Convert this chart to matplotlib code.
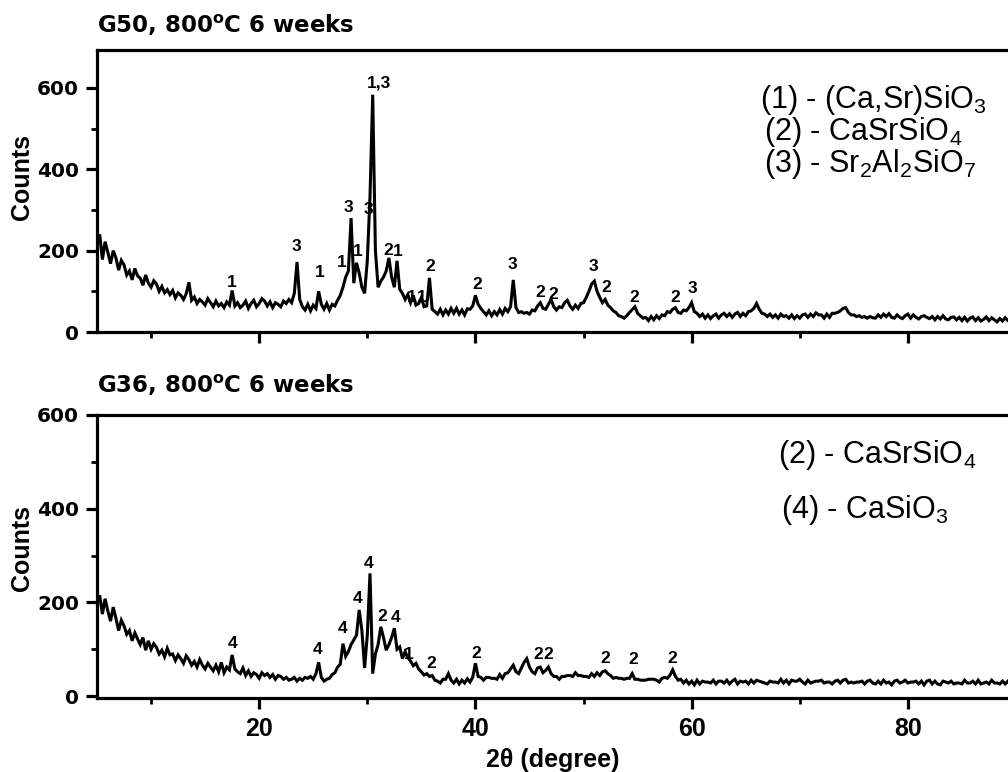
import numpy as np
import matplotlib
matplotlib.use("Agg")
import matplotlib.pyplot as plt
from matplotlib.ticker import MultipleLocator

plt.rcParams['mathtext.fontset'] = 'custom'
plt.rcParams['mathtext.rm'] = 'Liberation Sans'
plt.rcParams['mathtext.bf'] = 'Liberation Sans:bold'
plt.rcParams['mathtext.it'] = 'Liberation Sans:italic'

# ---------------- data ----------------
two_theta_start = 5.0     # degrees
two_theta_step = 0.25     # degrees

# G50 pattern, one row per degree (x.00, x.25, x.50, x.75)
g50_counts = [
    210, 240, 178, 222,   # 5
    196, 168, 200, 182,   # 6
    152, 176, 165, 140,   # 7
    150, 128, 156, 138,   # 8
    132, 115, 140, 120,   # 9
    110, 126, 118, 100,   # 10
    112, 96, 104, 92,     # 11
    102, 84, 96, 90,      # 12
    80, 94, 122, 78,      # 13
    86, 70, 80, 74,       # 14
    66, 82, 72, 62,       # 15
    76, 64, 70, 60,       # 16
    74, 66, 102, 64,      # 17
    72, 60, 66, 76,       # 18
    58, 70, 78, 62,       # 19
    70, 82, 76, 64,       # 20
    74, 60, 72, 68,       # 21
    62, 76, 70, 80,       # 22
    72, 95, 172, 80,      # 23
    62, 54, 68, 52,       # 24
    66, 58, 100, 68,      # 25
    56, 70, 54, 68,       # 26
    64, 78, 90, 110,      # 27
    135, 150, 280, 120,   # 28
    170, 145, 110, 95,    # 29
    175, 332, 583, 200,   # 30
    110, 125, 135, 150,   # 31
    182, 135, 110, 175,   # 32
    105, 95, 80, 92,      # 33
    72, 90, 66, 70,       # 34
    85, 62, 64, 133,      # 35
    56, 50, 44, 56,       # 36
    42, 54, 44, 58,       # 37
    46, 58, 44, 54,       # 38
    42, 57, 56, 64,       # 39
    90, 68, 58, 50,       # 40
    42, 52, 40, 50,       # 41
    42, 55, 44, 58,       # 42
    50, 62, 128, 60,      # 43
    48, 50, 46, 48,       # 44
    44, 54, 52, 64,       # 45
    72, 58, 56, 68,       # 46
    80, 62, 54, 62,       # 47
    60, 72, 78, 64,       # 48
    56, 66, 58, 70,       # 49
    72, 85, 100, 118,     # 50
    125, 100, 85, 72,     # 51
    80, 66, 60, 52,       # 52
    48, 40, 38, 34,       # 53
    40, 48, 55, 62,       # 54
    46, 40, 34, 36,       # 55
    28, 38, 30, 40,       # 56
    33, 42, 40, 50,       # 57
    48, 56, 60, 48,       # 58
    46, 54, 52, 60,       # 59
    72, 50, 46, 38,       # 60
    44, 34, 42, 33,       # 61
    40, 44, 34, 42,       # 62
    46, 38, 45, 36,       # 63
    44, 48, 38, 46,       # 64
    40, 50, 52, 58,       # 65
    70, 56, 46, 44,       # 66
    38, 44, 36, 42,       # 67
    34, 44, 38, 40,       # 68
    34, 42, 33, 40,       # 69
    34, 42, 44, 36,       # 70
    44, 38, 47, 42,       # 71
    42, 34, 44, 36,       # 72
    46, 46, 48, 52,       # 73
    58, 60, 48, 42,       # 74
    42, 38, 40, 36,       # 75
    38, 34, 38, 35,       # 76
    34, 42, 36, 44,       # 77
    38, 45, 36, 34,       # 78
    42, 36, 33, 40,       # 79
    44, 34, 42, 36,       # 80
    32, 38, 40, 36,       # 81
    33, 38, 30, 38,       # 82
    32, 40, 32, 30,       # 83
    36, 37, 30, 36,       # 84
    28, 36, 27, 34,       # 85
    37, 28, 35, 27,       # 86
    31, 37, 28, 35,       # 87
    30, 25, 33, 27,       # 88
    35, 28, 26, 33,       # 89
    30,                   # 90
]

# G36 pattern, one row per degree
g36_counts = [
    200, 215, 175, 208,   # 5
    182, 160, 190, 166,   # 6
    140, 162, 150, 132,   # 7
    140, 118, 135, 122,   # 8
    110, 125, 98, 118,    # 9
    100, 112, 104, 90,    # 10
    98, 84, 102, 88,      # 11
    90, 76, 88, 80,       # 12
    70, 86, 78, 66,       # 13
    74, 62, 78, 66,       # 14
    58, 70, 62, 54,       # 15
    66, 52, 72, 50,       # 16
    62, 56, 88, 58,       # 17
    52, 48, 60, 44,       # 18
    54, 42, 50, 46,       # 19
    38, 50, 44, 48,       # 20
    40, 46, 36, 44,       # 21
    42, 36, 40, 34,       # 22
    36, 40, 32, 38,       # 23
    34, 40, 38, 42,       # 24
    36, 48, 72, 40,       # 25
    32, 36, 38, 46,       # 26
    50, 62, 68, 112,      # 27
    85, 95, 110, 120,     # 28
    130, 184, 140, 60,    # 29
    130, 262, 48, 90,     # 30
    110, 148, 125, 98,    # 31
    110, 125, 145, 100,   # 32
    105, 80, 95, 82,      # 33
    75, 65, 70, 58,       # 34
    52, 45, 48, 42,       # 35
    44, 34, 32, 28,       # 36
    36, 36, 48, 34,       # 37
    28, 36, 26, 34,       # 38
    28, 37, 30, 40,       # 39
    70, 42, 40, 34,       # 40
    40, 40, 38, 38,       # 41
    36, 46, 38, 48,       # 42
    50, 58, 66, 52,       # 43
    48, 60, 72, 80,       # 44
    62, 52, 48, 60,       # 45
    62, 50, 55, 62,       # 46
    48, 42, 42, 36,       # 47
    42, 42, 44, 44,       # 48
    42, 50, 44, 44,       # 49
    42, 42, 40, 48,       # 50
    42, 50, 44, 52,       # 51
    54, 48, 44, 38,       # 52
    40, 38, 38, 36,       # 53
    38, 38, 48, 36,       # 54
    36, 34, 34, 34,       # 55
    36, 36, 36, 34,       # 56
    30, 38, 40, 38,       # 57
    45, 56, 42, 34,       # 58
    36, 28, 34, 26,       # 59
    32, 24, 34, 26,       # 60
    32, 30, 30, 28,       # 61
    34, 26, 32, 32,       # 62
    28, 34, 26, 32,       # 63
    36, 26, 32, 30,       # 64
    32, 26, 34, 28,       # 65
    34, 32, 30, 28,       # 66
    26, 32, 30, 30,       # 67
    28, 36, 28, 34,       # 68
    26, 34, 32, 32,       # 69
    36, 30, 26, 34,       # 70
    28, 30, 32, 32,       # 71
    34, 28, 30, 30,       # 72
    26, 32, 34, 28,       # 73
    34, 36, 28, 30,       # 74
    28, 30, 30, 32,       # 75
    26, 32, 34, 28,       # 76
    26, 32, 26, 34,       # 77
    28, 30, 24, 32,       # 78
    34, 28, 30, 34,       # 79
    28, 30, 30, 32,       # 80
    26, 32, 24, 32,       # 81
    34, 26, 32, 26,       # 82
    24, 32, 30, 28,       # 83
    32, 26, 28, 28,       # 84
    26, 34, 28, 28,       # 85
    32, 26, 34, 26,       # 86
    28, 30, 26, 34,       # 87
    28, 28, 26, 32,       # 88
    26, 32, 24, 30,       # 89
    28,                   # 90
]

# peak labels: (2theta, counts, phase)
g50_peak_pos = [17.45, 23.45, 25.6, 27.65, 28.25, 29.15, 30.1, 31.1, 31.95, 32.8,
                34.15, 35.05, 35.8, 40.15, 43.45, 46.0, 47.2, 50.9, 52.1, 54.7, 58.5, 60.05]
g50_peak_cnt = [122, 209, 145, 170, 307, 197, 300, 612, 200, 197,
                86, 84, 160, 116, 165, 98, 91, 160, 110, 84, 86, 108]
g50_peak_txt = ["1", "3", "1", "1", "3", "1", "3", "1,3", "2", "1",
                "1", "1", "2", "2", "3", "2", "2", "3", "2", "2", "2", "3"]

g36_peak_pos = [17.5, 25.4, 27.75, 29.1, 30.15, 31.35, 32.65, 33.85, 35.9, 40.1,
                45.85, 46.75, 52.0, 54.6, 58.2]
g36_peak_cnt = [113, 100, 145, 209, 284, 169, 167, 88, 70, 92,
                88, 88, 81, 79, 81]
g36_peak_txt = ["4", "4", "4", "4", "4", "2", "4", "1", "2", "2",
                "2", "2", "2", "2", "2"]

panel_titles = ["G50, 800$^\\mathregular{o}$C 6 weeks", "G36, 800$^\\mathregular{o}$C 6 weeks"]
g50_phases = ["(1) - (Ca,Sr)SiO$_\\mathregular{3}$",
              "(2) - CaSrSiO$_\\mathregular{4}$",
              "(3) - Sr$_\\mathregular{2}$Al$_\\mathregular{2}$SiO$_\\mathregular{7}$"]
g36_phases = ["(2) - CaSrSiO$_\\mathregular{4}$",
              "(4) - CaSiO$_\\mathregular{3}$"]

x_ticks = [20, 40, 60, 80]
x_ticklabels = ["20", "40", "60", "80"]
y_ticks = [0, 200, 400, 600]
y_ticklabels = ["0", "200", "400", "600"]
x_label = "2θ (degree)"
y_label = "Counts"

# ---------------- figure ----------------
W, H = 1008, 772
fig = plt.figure(figsize=(W / 100, H / 100), dpi=100)


def fx(px):
    return px / W


def fy(py):
    return 1 - py / H


def make_axes(top_px, bottom_px):
    left, right = 97, 1016
    return fig.add_axes([fx(left), fy(bottom_px), (right - left) / W, (bottom_px - top_px) / H])


ax1 = make_axes(50, 332)
ax2 = make_axes(415, 698)

tick_font = dict(family='DejaVu Sans', weight='bold', size=14.5)
xtick_font = dict(family='Liberation Sans', weight='bold', size=18)
peak_font = dict(family='Liberation Sans', weight='bold', size=12.5)
title_font = dict(family='DejaVu Sans', weight='bold', size=16.5)

for ax, counts, ylim in ((ax1, g50_counts, (0, 693)), (ax2, g36_counts, (-4, 600))):
    y = np.array(counts, dtype=float)
    x = two_theta_start + two_theta_step * np.arange(len(y))
    ax.plot(x, y, color='black', lw=2.2, solid_joinstyle='miter')
    ax.set_xlim(5, 90)
    ax.set_ylim(*ylim)
    for s in ax.spines.values():
        s.set_linewidth(2.3)
    ax.set_xticks(x_ticks)
    ax.xaxis.set_minor_locator(MultipleLocator(10))
    ax.set_yticks(y_ticks)
    ax.set_yticklabels(y_ticklabels, **tick_font)
    ax.yaxis.set_minor_locator(MultipleLocator(100))
    ax.tick_params(which='major', direction='out', length=8, width=2.3, pad=5,
                   top=False, right=False)
    ax.tick_params(which='minor', direction='out', length=4, width=2.0,
                   top=False, right=False)

ax1.set_xticklabels([])
ax2.set_xticklabels(x_ticklabels, **xtick_font)
ax2.tick_params(axis='x', which='major', pad=6)

for ax, pos, cnt, txt in ((ax1, g50_peak_pos, g50_peak_cnt, g50_peak_txt),
                          (ax2, g36_peak_pos, g36_peak_cnt, g36_peak_txt)):
    for p, c, t in zip(pos, cnt, txt):
        ax.text(p, c, t, ha='center', va='center', **peak_font)

# titles
fig.text(fx(97), fy(33), panel_titles[0], ha='left', va='baseline', **title_font)
fig.text(fx(97), fy(393), panel_titles[1], ha='left', va='baseline', **title_font)

# phase legends
legend_font = dict(family='Liberation Sans', size=22)
for txt, (px, py) in zip(g50_phases, [(760, 108), (764, 140), (764, 172)]):
    fig.text(fx(px), fy(py), txt, ha='left', va='baseline', **legend_font)
for txt, (px, py) in zip(g36_phases, [(778, 463), (781, 518)]):
    fig.text(fx(px), fy(py), txt, ha='left', va='baseline', **legend_font)

# axis labels
fig.text(fx(22), fy(177), y_label, rotation=90, ha='center', va='center',
         family='Liberation Sans', weight='bold', size=18)
fig.text(fx(22), fy(548), y_label, rotation=90, ha='center', va='center',
         family='Liberation Sans', weight='bold', size=18)
fig.text(fx(553), fy(767), x_label, ha='center', va='baseline',
         family='Liberation Sans', weight='bold', size=18)

fig.savefig('out.png', dpi=100)
